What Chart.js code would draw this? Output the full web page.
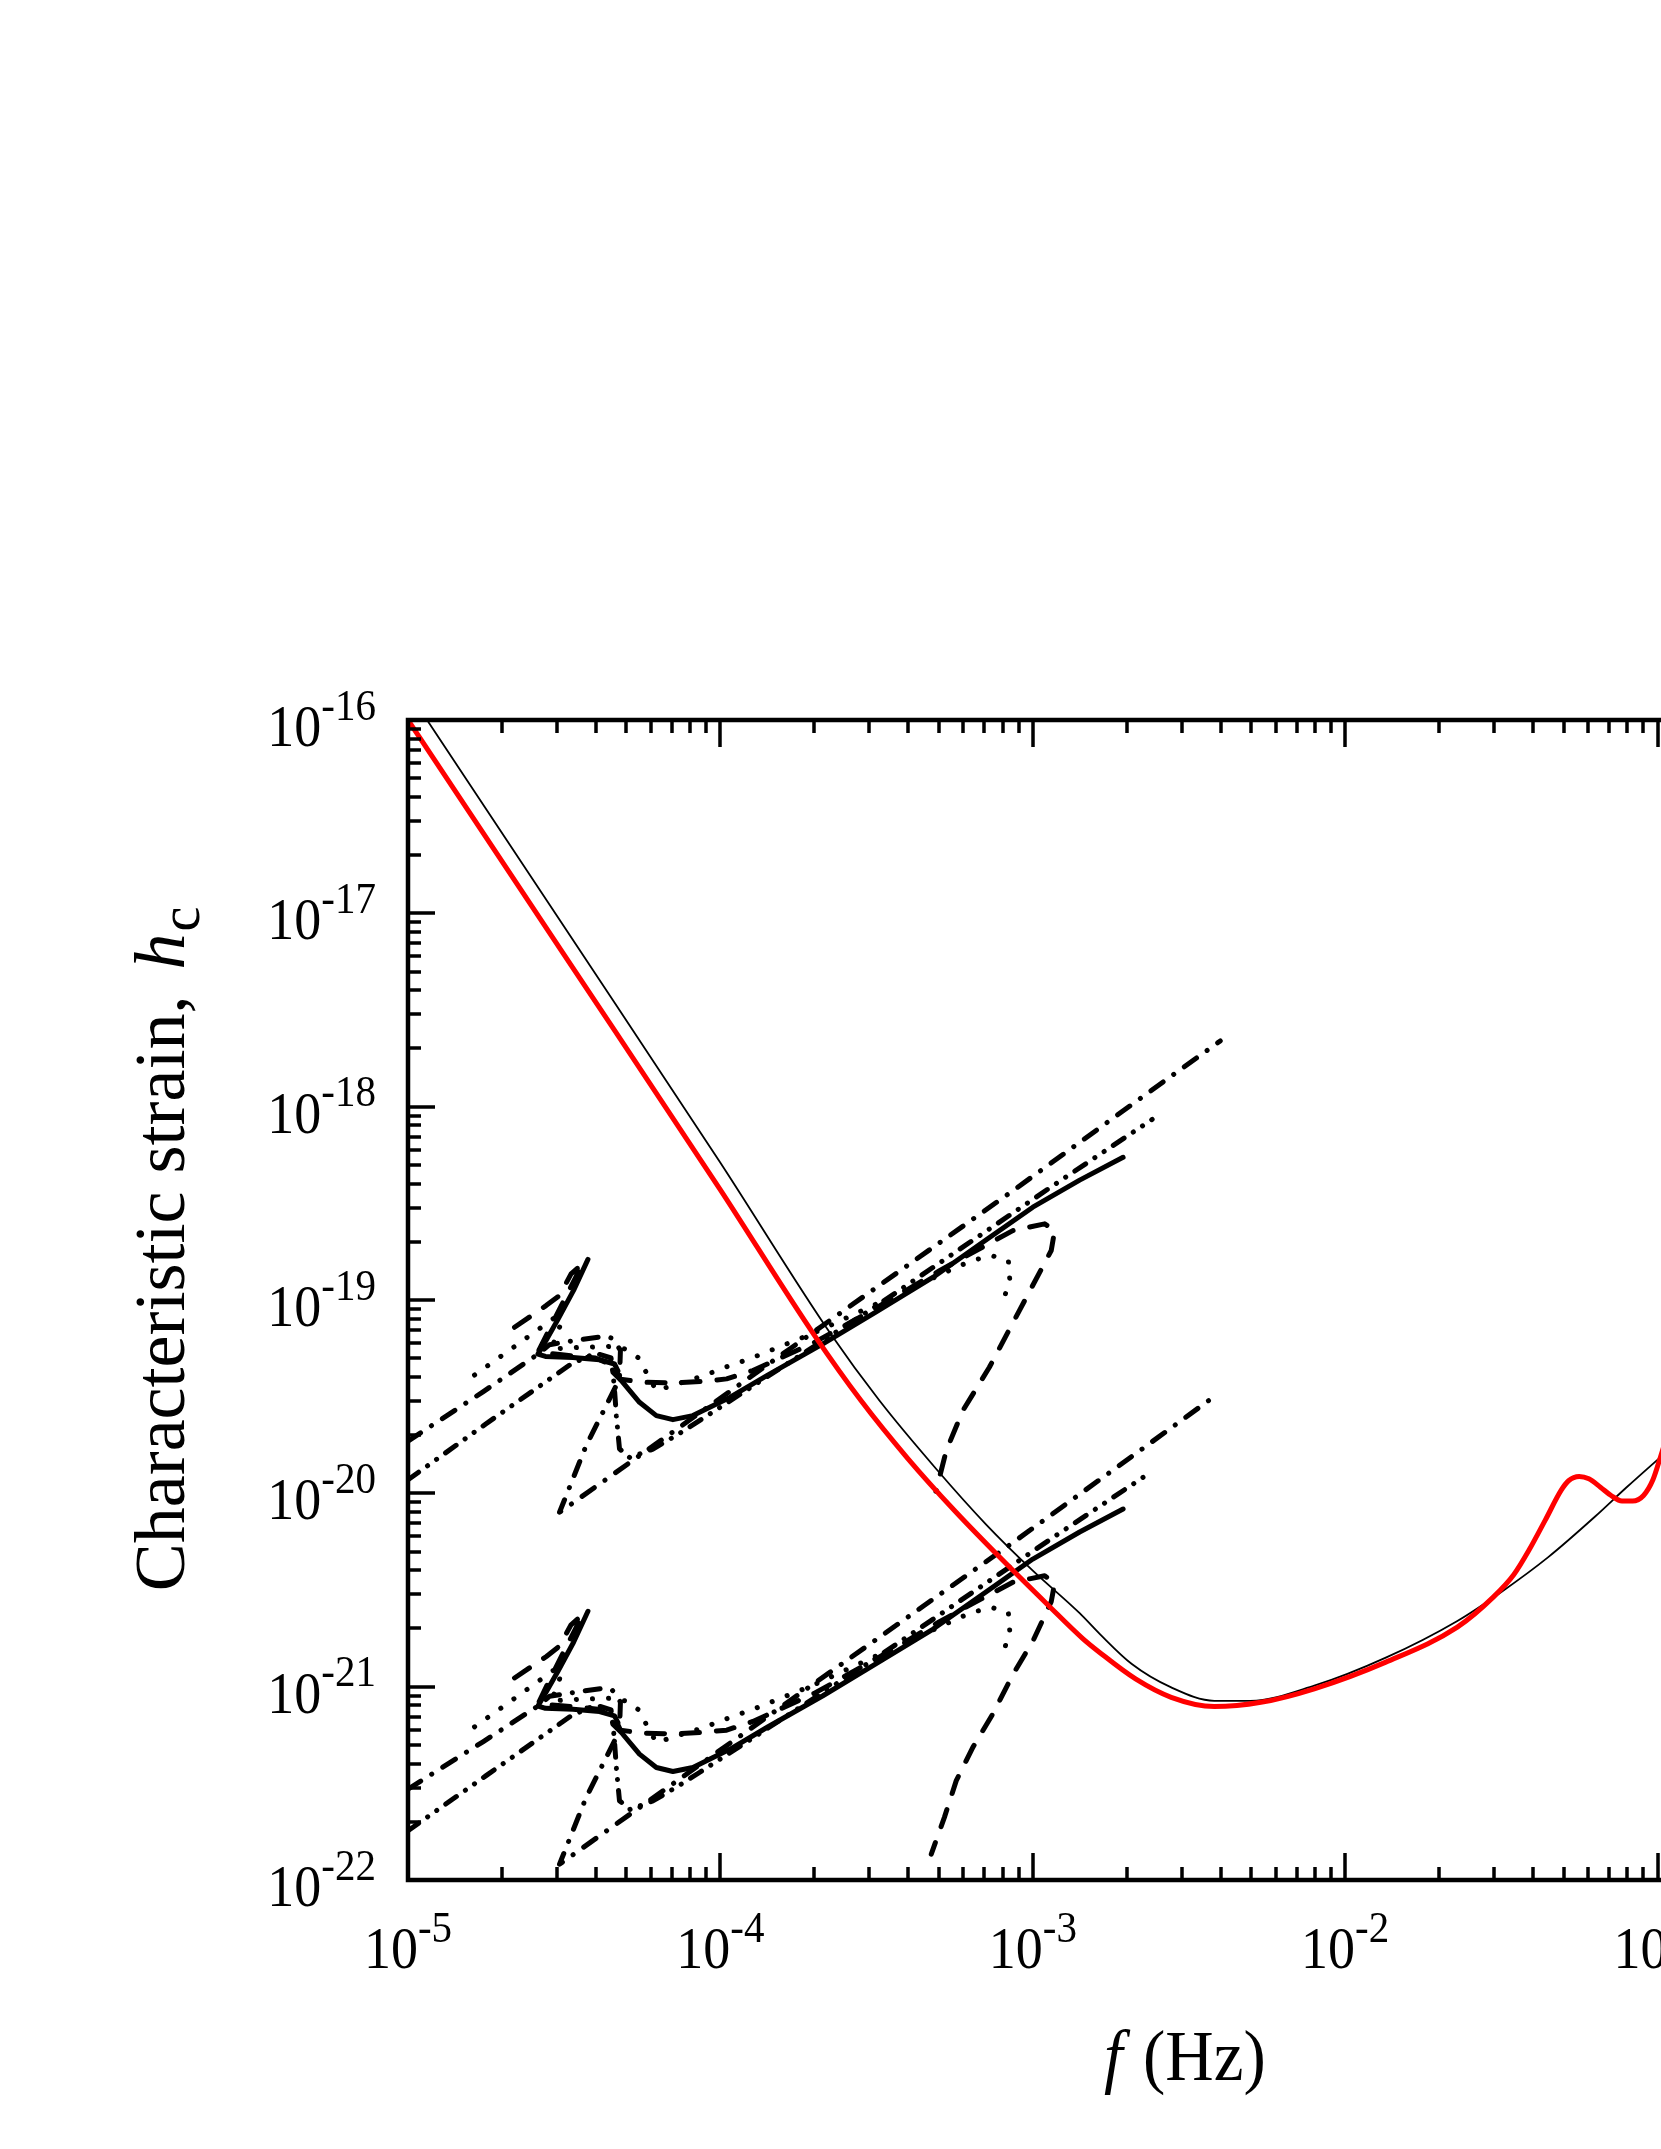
<!DOCTYPE html>
<html>
<head>
<meta charset="utf-8">
<script src="https://cdn.jsdelivr.net/npm/chart.js@4.4.0/dist/chart.umd.min.js"></script>
<style>
  html, body { margin: 0; padding: 0; background: #fff; overflow: hidden; }
  canvas { display: block; }
</style>
</head>
<body>
<canvas id="strainChart" width="2200" height="2149" style="width:2200px;height:2149px"></canvas>
<script>
// every point is [log10 f (Hz), log10 h_c]
const redCurve = [[-5.0,-16.0],[-4.5,-17.215],[-4.0,-18.43],[-3.7,-19.18],[-3.55,-19.52],[-3.4,-19.82],[-3.25,-20.09],[-3.1,-20.34],[-2.95,-20.58],[-2.841,-20.75],[-2.786,-20.823],[-2.671,-20.96],[-2.557,-21.055],[-2.419,-21.103],[-2.27,-21.081],[-2.099,-21.011],[-1.87,-20.873],[-1.641,-20.692],[-1.526,-20.537],[-1.46,-20.42],[-1.412,-20.295],[-1.36,-20.14],[-1.309,-19.985],[-1.285,-19.935],[-1.251,-19.913],[-1.22,-19.925],[-1.183,-19.968],[-1.15,-20.01],[-1.114,-20.04],[-1.08,-20.04],[-1.045,-20.011],[-1.015,-19.93],[-0.991,-19.813],[-0.95,-19.6]];
const blackCurve = [[-4.939,-16.0],[-4.5,-17.07],[-4.0,-18.29],[-3.645,-19.18],[-3.491,-19.52],[-3.309,-19.874],[-3.15,-20.16],[-3.0,-20.40],[-2.85,-20.62],[-2.786,-20.727],[-2.683,-20.883],[-2.557,-21.004],[-2.419,-21.073],[-2.304,-21.073],[-2.099,-20.995],[-1.87,-20.85],[-1.641,-20.66],[-1.5,-20.51],[-1.35,-20.33],[-1.2,-20.12],[-1.1,-19.97],[-0.991,-19.813],[-0.95,-19.755]];

// upper family
const solidUpper = [[-4.424,-18.79],[-4.47,-18.95],[-4.52,-19.10],[-4.555,-19.20],[-4.584,-19.28],[-4.56,-19.292],[-4.472,-19.297],[-4.387,-19.309],[-4.339,-19.331],[-4.328,-19.366],[-4.344,-19.374],[-4.317,-19.417],[-4.259,-19.529],[-4.205,-19.598],[-4.152,-19.619],[-4.088,-19.598],[-3.97,-19.504],[-3.85,-19.39],[-3.672,-19.227],[-3.5,-19.06],[-3.319,-18.882],[-3.15,-18.69],[-3.0,-18.52],[-2.85,-18.38],[-2.711,-18.262]];
const dashedUpper = [[-4.659,-19.141],[-4.558,-19.029],[-4.515,-18.977],[-4.478,-18.865],[-4.44,-18.81],[-4.50,-19.00],[-4.55,-19.16],[-4.584,-19.27],[-4.50,-19.285],[-4.40,-19.30],[-4.34,-19.34],[-4.32,-19.41],[-4.25,-19.425],[-4.15,-19.43],[-4.05,-19.42],[-3.98,-19.408],[-3.896,-19.365],[-3.7,-19.22],[-3.5,-19.04],[-3.3,-18.85],[-3.181,-18.744],[-3.064,-18.641],[-2.962,-18.606],[-2.93,-18.641],[-2.941,-18.744],[-3.043,-19.055],[-3.139,-19.348],[-3.224,-19.572],[-3.277,-19.779],[-3.31,-19.99]];
const dottedUpper = [[-4.787,-19.388],[-4.68,-19.265],[-4.574,-19.142],[-4.526,-19.086],[-4.51,-19.12],[-4.541,-19.253],[-4.45,-19.245],[-4.35,-19.24],[-4.30,-19.255],[-4.264,-19.297],[-4.205,-19.469],[-4.13,-19.43],[-4.05,-19.39],[-4.0,-19.357],[-3.9,-19.30],[-3.7,-19.17],[-3.5,-19.02],[-3.35,-18.91],[-3.234,-18.822],[-3.18,-18.79],[-3.131,-18.77],[-3.078,-18.80],[-3.074,-18.888],[-3.089,-18.977]];
const dashDotUpper = [[-5.0,-19.73],[-4.76,-19.475],[-4.584,-19.28],[-4.547,-19.231],[-4.45,-19.205],[-4.371,-19.188],[-4.346,-19.198],[-4.32,-19.26],[-4.323,-19.409],[-4.43,-19.754],[-4.515,-20.098],[-4.49,-20.07],[-4.259,-19.805],[-3.778,-19.253],[-3.063,-18.434],[-2.636,-17.934],[-2.40,-17.66]];
const dashDotDotUpper = [[-5.0,-19.93],[-4.75,-19.64],[-4.478,-19.331],[-4.40,-19.275],[-4.35,-19.30],[-4.34,-19.44],[-4.333,-19.60],[-4.323,-19.77],[-4.29,-19.815],[-4.216,-19.771],[-4.141,-19.70],[-4.067,-19.624],[-3.5,-19.03],[-2.935,-18.408],[-2.618,-18.066]];

// lower family
const solidLower = [[-4.424,-20.61],[-4.47,-20.77],[-4.52,-20.92],[-4.555,-21.02],[-4.584,-21.10],[-4.56,-21.112],[-4.472,-21.117],[-4.387,-21.129],[-4.339,-21.151],[-4.328,-21.186],[-4.344,-21.194],[-4.317,-21.237],[-4.259,-21.349],[-4.205,-21.418],[-4.152,-21.439],[-4.088,-21.418],[-3.97,-21.324],[-3.85,-21.21],[-3.672,-21.047],[-3.5,-20.88],[-3.319,-20.702],[-3.15,-20.51],[-3.0,-20.34],[-2.85,-20.2],[-2.711,-20.081]];
const dashedLower = [[-4.659,-20.955],[-4.558,-20.845],[-4.515,-20.79],[-4.478,-20.68],[-4.44,-20.625],[-4.50,-20.815],[-4.55,-20.975],[-4.584,-21.09],[-4.50,-21.1],[-4.40,-21.115],[-4.34,-21.155],[-4.32,-21.225],[-4.25,-21.24],[-4.15,-21.245],[-4.05,-21.235],[-3.98,-21.225],[-3.896,-21.18],[-3.7,-21.035],[-3.5,-20.855],[-3.3,-20.665],[-3.181,-20.56],[-3.064,-20.46],[-2.962,-20.426],[-2.93,-20.465],[-2.941,-20.56],[-2.999,-20.762],[-3.063,-20.935],[-3.128,-21.141],[-3.192,-21.314],[-3.245,-21.486],[-3.283,-21.676],[-3.325,-21.866]];
const dottedLower = [[-4.787,-21.208],[-4.68,-21.085],[-4.574,-20.962],[-4.526,-20.906],[-4.51,-20.94],[-4.541,-21.073],[-4.45,-21.065],[-4.35,-21.06],[-4.30,-21.075],[-4.264,-21.117],[-4.205,-21.289],[-4.13,-21.25],[-4.05,-21.21],[-4.0,-21.177],[-3.9,-21.12],[-3.7,-20.99],[-3.5,-20.84],[-3.35,-20.73],[-3.234,-20.642],[-3.18,-20.61],[-3.131,-20.59],[-3.078,-20.62],[-3.074,-20.708],[-3.089,-20.797]];
const dashDotLower = [[-5.0,-21.53],[-4.76,-21.285],[-4.584,-21.10],[-4.547,-21.05],[-4.45,-21.025],[-4.371,-21.008],[-4.346,-21.018],[-4.32,-21.08],[-4.323,-21.229],[-4.43,-21.574],[-4.515,-21.918],[-4.49,-21.89],[-4.259,-21.625],[-3.778,-21.073],[-3.063,-20.254],[-2.636,-19.754],[-2.42,-19.5]];
const dashDotDotLower = [[-5.0,-21.745],[-4.75,-21.46],[-4.478,-21.151],[-4.40,-21.095],[-4.35,-21.12],[-4.34,-21.26],[-4.333,-21.42],[-4.323,-21.59],[-4.29,-21.635],[-4.216,-21.591],[-4.141,-21.52],[-4.067,-21.444],[-3.5,-20.85],[-2.935,-20.228],[-2.618,-19.886]];

// axes
const xTickExps = [-5, -4, -3, -2, -1, 0];
const yTickExps = [-22, -21, -20, -19, -18, -17, -16];

const serif = "'Liberation Serif', 'Times New Roman', serif";

function toPts(arr) {
  return arr.map(p => ({ x: Math.pow(10, p[0]), y: Math.pow(10, p[1]) }));
}

function lineSet(arr, opts) {
  return Object.assign({
    data: toPts(arr),
    showLine: true,
    fill: false,
    tension: 0,
    pointRadius: 0,
    borderColor: "#000",
    borderWidth: 5,
    borderJoinStyle: "round",
    borderCapStyle: "round"
  }, opts);
}

const DASHED = [18, 17];
const DOTTED = [0.1, 16];
const DASHDOT = [15, 13, 0.1, 13];
const DASHDOTDOT = [13, 11, 0.1, 11, 0.1, 11];

// draws the box, inward ticks, power-of-ten labels and axis titles
const framePlugin = {
  id: "frame",
  afterDraw(chart) {
    const ctx = chart.ctx;
    const a = chart.chartArea;
    const xs = chart.scales.x;
    const ys = chart.scales.y;
    ctx.save();
    ctx.strokeStyle = "#000";
    ctx.fillStyle = "#000";
    ctx.lineCap = "butt";

    // ticks
    ctx.lineWidth = 3.5;
    ctx.beginPath();
    for (let e = xTickExps[0]; e <= xTickExps[xTickExps.length - 1]; e++) {
      for (let m = 1; m < 10; m++) {
        if (e === xTickExps[xTickExps.length - 1] && m > 1) break;
        const px = Math.round(xs.getPixelForValue(m * Math.pow(10, e)));
        const len = m === 1 ? 27 : 13;
        ctx.moveTo(px, a.bottom); ctx.lineTo(px, a.bottom - len);
        ctx.moveTo(px, a.top); ctx.lineTo(px, a.top + len);
      }
    }
    for (let e = yTickExps[0]; e <= yTickExps[yTickExps.length - 1]; e++) {
      for (let m = 1; m < 10; m++) {
        if (e === yTickExps[yTickExps.length - 1] && m > 1) break;
        const py = Math.round(ys.getPixelForValue(m * Math.pow(10, e)));
        const len = m === 1 ? 27 : 13;
        ctx.moveTo(a.left, py); ctx.lineTo(a.left + len, py);
        ctx.moveTo(a.right, py); ctx.lineTo(a.right - len, py);
      }
    }
    ctx.stroke();

    // box
    ctx.lineWidth = 4.5;
    ctx.strokeRect(a.left, a.top, a.right - a.left, a.bottom - a.top);

    // tick labels, slightly taller than wide like the original print
    const mainFont = "54px " + serif;
    const supFont = "41px " + serif;
    const stretch = 1.1;
    function powWidth(e) {
      ctx.font = mainFont;
      const w1 = ctx.measureText("10").width;
      ctx.font = supFont;
      const w2 = ctx.measureText(String(e)).width;
      return [w1, w2];
    }
    function drawPow(e, left, base) {
      const w = powWidth(e);
      ctx.save();
      ctx.translate(left, base);
      ctx.scale(1, stretch);
      ctx.font = mainFont;
      ctx.fillText("10", 0, 0);
      ctx.font = supFont;
      ctx.fillText(String(e), w[0], -24);
      ctx.restore();
    }
    ctx.textAlign = "left";
    ctx.textBaseline = "alphabetic";
    xTickExps.forEach(e => {
      const px = xs.getPixelForValue(Math.pow(10, e));
      const w = powWidth(e);
      drawPow(e, px - (w[0] + w[1]) / 2, a.bottom + 88);
    });
    yTickExps.forEach(e => {
      const py = ys.getPixelForValue(Math.pow(10, e));
      const w = powWidth(e);
      drawPow(e, a.left - 32 - (w[0] + w[1]), py + 26);
    });

    // x title: f (Hz)
    ctx.save();
    ctx.translate(0, 2080);
    ctx.scale(1, 1.08);
    ctx.font = "italic 67px " + serif;
    ctx.fillText("f", 1104, 0);
    ctx.font = "67px " + serif;
    ctx.fillText("(Hz)", 1143, 0);
    ctx.restore();

    // y title: Characteristic strain, h_c
    ctx.save();
    ctx.translate(184, 1250);
    ctx.rotate(-Math.PI / 2);
    const p1 = "Characteristic strain,";
    ctx.font = "72px " + serif;
    const w1 = ctx.measureText(p1).width;
    ctx.font = "italic 72px " + serif;
    const wh = ctx.measureText("h").width;
    ctx.font = "56px " + serif;
    const wc = ctx.measureText("c").width;
    const gap = 26;
    let x0 = -(w1 + gap + wh + wc) / 2;
    ctx.font = "72px " + serif;
    ctx.fillText(p1, x0, 0);
    x0 += w1 + gap;
    ctx.font = "italic 72px " + serif;
    ctx.fillText("h", x0, 0);
    x0 += wh + 2;
    ctx.font = "56px " + serif;
    ctx.fillText("c", x0, 15);
    ctx.restore();

    ctx.restore();
  }
};

const ctx = document.getElementById("strainChart").getContext("2d");
const strainChart = new Chart(ctx, {
  type: "scatter",
  data: {
    datasets: [
      lineSet(redCurve, { borderColor: "#ff0000", borderWidth: 5, cubicInterpolationMode: "monotone" }),
      lineSet(blackCurve, { borderWidth: 1.8, cubicInterpolationMode: "monotone" }),
      lineSet(solidUpper, {}),
      lineSet(dashedUpper, { borderDash: DASHED }),
      lineSet(dottedUpper, { borderDash: DOTTED }),
      lineSet(dashDotUpper, { borderDash: DASHDOT }),
      lineSet(dashDotDotUpper, { borderDash: DASHDOTDOT }),
      lineSet(solidLower, {}),
      lineSet(dashedLower, { borderDash: DASHED }),
      lineSet(dottedLower, { borderDash: DOTTED }),
      lineSet(dashDotLower, { borderDash: DASHDOT }),
      lineSet(dashDotDotLower, { borderDash: DASHDOTDOT })
    ]
  },
  options: {
    responsive: false,
    animation: false,
    events: [],
    layout: { padding: { left: 408, top: 720, right: 230, bottom: 269 } },
    plugins: {
      legend: { display: false },
      tooltip: { enabled: false }
    },
    scales: {
      x: { type: "logarithmic", min: 1e-5, max: 1, display: false },
      y: { type: "logarithmic", min: 1e-22, max: 1e-16, display: false }
    }
  },
  plugins: [framePlugin]
});
</script>
</body>
</html>
